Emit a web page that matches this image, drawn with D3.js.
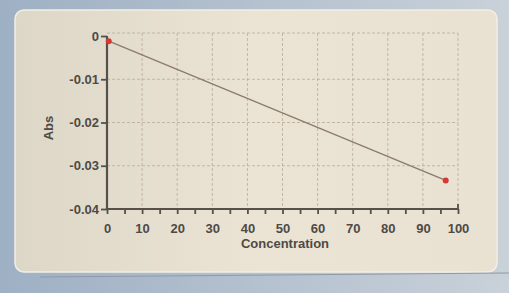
<html>
<head>
<meta charset="utf-8">
<script src="https://cdnjs.cloudflare.com/ajax/libs/d3/7.8.5/d3.min.js"></script>
<style>
  body { margin: 0; background: #aebbc9; }
</style>
</head>
<body>
<div id="chartContainer"></div>
<script type="text/javascript">
  // data
  var concentration = [0.5, 96.5];
  var absValues = [-0.0012, -0.0334];
  var xTicks = [0, 10, 20, 30, 40, 50, 60, 70, 80, 90, 100];
  var yTicks = [0, -0.01, -0.02, -0.03, -0.04];

  var W = 509, H = 293;
  var svg = d3.select("#chartContainer").append("svg")
    .attr("width", W).attr("height", H);

  var defs = svg.append("defs");
  var bg = defs.append("linearGradient").attr("id", "bg")
    .attr("x1", "0").attr("y1", "0").attr("x2", "1").attr("y2", "0");
  bg.append("stop").attr("offset", "0").attr("stop-color", "#9eb0c4");
  bg.append("stop").attr("offset", "1").attr("stop-color", "#c9d1d9");
  var pn = defs.append("linearGradient").attr("id", "pn")
    .attr("x1", "0").attr("y1", "0").attr("x2", "1").attr("y2", "0");
  pn.append("stop").attr("offset", "0").attr("stop-color", "#ddd7c8");
  pn.append("stop").attr("offset", "0.5").attr("stop-color", "#ebe4d5");
  pn.append("stop").attr("offset", "1").attr("stop-color", "#e9e1d2");

  svg.append("rect").attr("width", W).attr("height", H).attr("fill", "url(#bg)");
  // panel
  svg.append("rect")
    .attr("x", 15).attr("y", 10).attr("width", 482).attr("height", 262)
    .attr("rx", 9).attr("fill", "url(#pn)")
    .attr("stroke", "#f3eee4").attr("stroke-width", 1.5);
  svg.append("line").attr("x1", 40).attr("x2", 509).attr("y1", 277).attr("y2", 273)
    .attr("stroke", "#8f9aa6").attr("stroke-width", 1.2);

  var pLeft = 107, pRight = 458, pTop = 36, pBottom = 209;
  var x = d3.scaleLinear().domain([0, 100]).range([pLeft, pRight]);
  var y = d3.scaleLinear().domain([-0.04, 0]).range([pBottom, pTop]);

  var g = svg.append("g");
  var gridColor = "#b7ab97";

  // grid
  g.selectAll(".vgrid").data(xTicks.filter(function (d) { return d > 0; }))
    .enter().append("line")
      .attr("x1", function (d) { return x(d); }).attr("x2", function (d) { return x(d); })
      .attr("y1", pTop - 3).attr("y2", pBottom)
      .attr("stroke", gridColor).attr("stroke-width", 0.8)
      .attr("stroke-dasharray", "3,2");
  g.selectAll(".hgrid").data(yTicks.filter(function (d) { return d > -0.04; }))
    .enter().append("line")
      .attr("x1", pLeft).attr("x2", pRight)
      .attr("y1", function (d) { return y(d) - (d === 0 ? 3 : 0); })
      .attr("y2", function (d) { return y(d) - (d === 0 ? 3 : 0); })
      .attr("stroke", gridColor).attr("stroke-width", 0.8)
      .attr("stroke-dasharray", "3,2");

  var txt = "#4e4a45";
  // x axis, minor ticks every 5
  var xAxis = d3.axisBottom(x).tickValues(d3.range(0, 101, 5))
    .tickSize(5).tickPadding(10)
    .tickFormat(function (d) { return d % 10 === 0 ? d : ""; });
  var xg = g.append("g").attr("transform", "translate(0," + pBottom + ")").call(xAxis);
  var yAxis = d3.axisLeft(y).tickValues(yTicks).tickSize(6).tickPadding(2)
    .tickFormat(function (d) { return d === 0 ? "0" : d.toFixed(2); });
  var yg = g.append("g").attr("transform", "translate(" + pLeft + ",0)").call(yAxis);

  [xg, yg].forEach(function (a) {
    a.select(".domain").attr("stroke", "#55504a").attr("stroke-width", 2.2);
    a.selectAll(".tick line").attr("stroke", "#55504a").attr("stroke-width", 1.8);
    a.selectAll("text").attr("fill", txt)
      .style("font-family", "Liberation Sans, Arial, sans-serif")
      .style("font-size", "13px").style("font-weight", "bold");
  });
  xg.select(".domain").attr("d", "M" + pLeft + ",0H" + pRight);
  yg.select(".domain").attr("d", "M0," + (pBottom + 1) + "V" + pTop);
  // small end mark at 100
  g.append("line").attr("x1", pRight).attr("x2", pRight)
    .attr("y1", pBottom - 5).attr("y2", pBottom)
    .attr("stroke", "#55504a").attr("stroke-width", 1.8);

  // axis titles
  g.append("text").attr("x", 285).attr("y", 248).attr("text-anchor", "middle")
    .attr("fill", txt).style("font-family", "Liberation Sans, Arial, sans-serif")
    .style("font-size", "13px").style("font-weight", "bold").text("Concentration");
  g.append("text").attr("transform", "translate(53,128) rotate(-90)")
    .attr("text-anchor", "middle")
    .attr("fill", txt).style("font-family", "Liberation Sans, Arial, sans-serif")
    .style("font-size", "13px").style("font-weight", "bold").text("Abs");

  // data line and points
  var pts = concentration.map(function (c, i) { return [c, absValues[i]]; });
  g.append("path").datum(pts)
    .attr("d", d3.line().x(function (d) { return x(d[0]); }).y(function (d) { return y(d[1]); }))
    .attr("fill", "none").attr("stroke", "#8c7a6a").attr("stroke-width", 1.3);
  g.selectAll(".pt").data(pts).enter().append("circle")
    .attr("cx", function (d) { return x(d[0]); })
    .attr("cy", function (d) { return y(d[1]); })
    .attr("r", 3).attr("fill", "#d23a33");
</script>
</body>
</html>
